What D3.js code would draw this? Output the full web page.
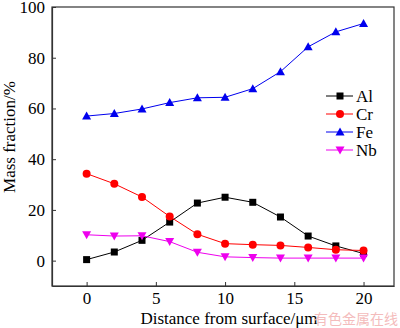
<!DOCTYPE html>
<html><head><meta charset="utf-8">
<script src="https://cdn.jsdelivr.net/npm/d3@7"></script>
<style>body{margin:0;background:#fff}svg{display:block}</style>
</head><body>
<svg id="c" width="400" height="328"></svg>
<script>
const distance = [0, 2, 4, 6, 8, 10, 12, 14, 16, 18, 20];
const al = [0.4, 3.4, 8.0, 15.2, 22.7, 25.0, 23.0, 17.2, 9.7, 5.8, 2.8];
const cr = [34.3, 30.3, 25.1, 17.4, 10.4, 6.7, 6.3, 6.0, 5.2, 4.3, 4.0];
const fe = [57.0, 58.0, 59.8, 62.3, 64.2, 64.4, 67.8, 74.5, 84.3, 90.2, 93.5];
const nb = [10.2, 9.7, 9.8, 7.5, 3.3, 1.5, 1.2, 1.0, 1.0, 1.0, 1.0];
const xTicks = [0, 5, 10, 15, 20];
const yTicks = [0, 20, 40, 60, 80, 100];
const seriesNames = ["Al", "Cr", "Fe", "Nb"];
const seriesColors = ["#000000", "#ff0000", "#0000ee", "#ee00ee"];
const seriesSymbols = ["square", "circle", "triangle", "triangleDown"];
const seriesValues = [al, cr, fe, nb];

const SERIF = "Liberation Serif";
const svg = d3.select("#c");
const x = d3.scaleLinear().domain([-2.5, 22.2]).range([52, 394]);
const y = d3.scaleLinear().domain([-10, 100]).range([286, 7]);

svg.append("rect").attr("x", 52).attr("y", 7).attr("width", 342).attr("height", 279)
  .attr("fill", "none").attr("stroke", "#333").attr("stroke-width", 1.2);

const xa = svg.append("g").attr("transform", "translate(0,286)")
  .call(d3.axisBottom(x).tickValues(xTicks).tickSizeInner(-4).tickSizeOuter(0).tickPadding(6));
const ya = svg.append("g").attr("transform", "translate(52,0)")
  .call(d3.axisLeft(y).tickValues(yTicks).tickSizeInner(-4).tickSizeOuter(0).tickPadding(7));
[xa, ya].forEach(a => {
  a.attr("font-family", SERIF);
  a.select(".domain").attr("stroke", "#333").attr("stroke-width", 1.2);
  a.selectAll(".tick line").attr("stroke", "#333");
  a.selectAll("text").attr("font-family", SERIF).attr("font-size", 17).attr("fill", "#000");
});

function sym(type, cx, cy, color, g) {
  if (type === "square") {
    g.append("rect").attr("x", cx - 3.5).attr("y", cy - 3.5).attr("width", 7).attr("height", 7).attr("fill", color);
  } else if (type === "circle") {
    g.append("circle").attr("cx", cx).attr("cy", cy).attr("r", 4).attr("fill", color);
  } else if (type === "triangle") {
    g.append("path").attr("d", `M${cx},${cy - 4.5}L${cx + 4.5},${cy + 3.5}L${cx - 4.5},${cy + 3.5}Z`).attr("fill", color);
  } else {
    g.append("path").attr("d", `M${cx},${cy + 4.5}L${cx + 4.5},${cy - 3.5}L${cx - 4.5},${cy - 3.5}Z`).attr("fill", color);
  }
}

const line = d3.line().x((d, i) => x(distance[i])).y(d => y(d));
seriesValues.forEach((vals, si) => {
  const g = svg.append("g");
  g.append("path").attr("d", line(vals)).attr("fill", "none")
    .attr("stroke", seriesColors[si]).attr("stroke-width", 1);
  vals.forEach((v, i) => sym(seriesSymbols[si], x(distance[i]), y(v), seriesColors[si], g));
});

seriesNames.forEach((n, i) => {
  const ly = 96 + i * 18;
  const g = svg.append("g");
  g.append("line").attr("x1", 326).attr("x2", 353).attr("y1", ly).attr("y2", ly)
    .attr("stroke", seriesColors[i]).attr("stroke-width", 1);
  sym(seriesSymbols[i], 340, ly, seriesColors[i], g);
  g.append("text").attr("x", 356).attr("y", ly + 6).text(n)
    .attr("font-family", SERIF).attr("font-size", 17).attr("fill", "#000");
});

svg.append("text").attr("transform", "translate(15,137) rotate(-90)").attr("text-anchor", "middle")
  .attr("font-family", SERIF).attr("font-size", 17).text("Mass fraction/%");
svg.append("text").attr("x", 229).attr("y", 324).attr("text-anchor", "middle")
  .attr("font-family", SERIF).attr("font-size", 17).text("Distance from surface/μm");
svg.append("text").attr("x", 398).attr("y", 324).attr("text-anchor", "end")
  .attr("font-family", "Noto Sans CJK SC").attr("font-size", 14).attr("fill", "#f4bcbc").text("有色金属在线");
</script>
</body></html>
